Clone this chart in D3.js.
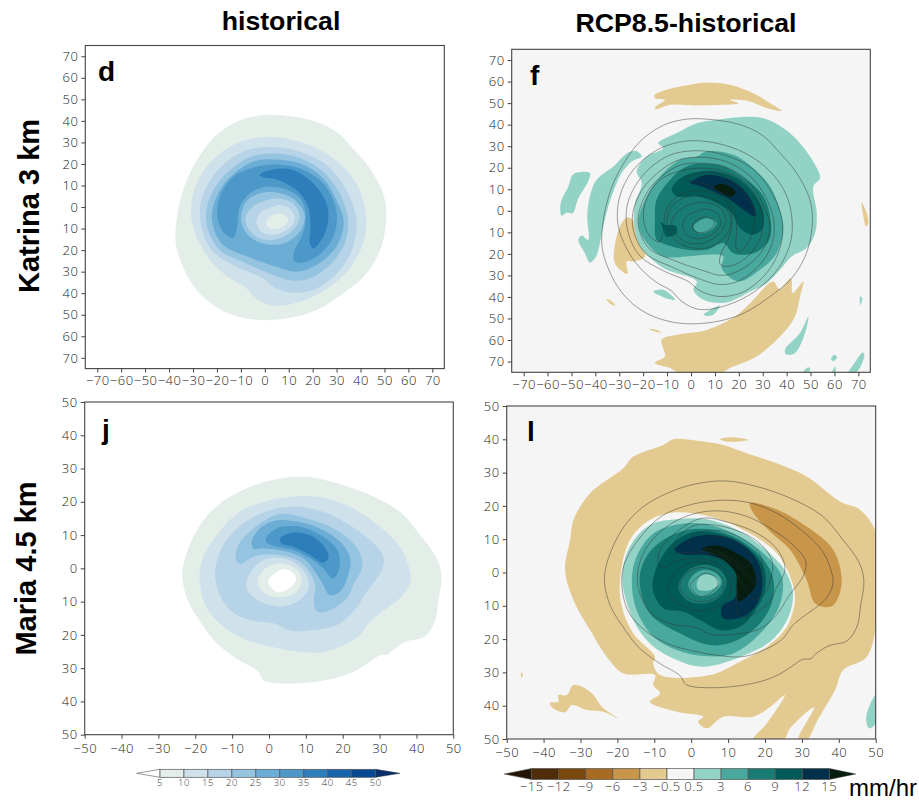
<!DOCTYPE html>
<html><head><meta charset="utf-8">
<script src="https://cdn.jsdelivr.net/npm/d3@7"></script>
<style>
html,body{margin:0;padding:0;background:#fff;overflow:hidden}
svg{display:block}
.tk text{font-family:"Open Sans","Liberation Sans",sans-serif;font-weight:300;fill:#222;letter-spacing:.5px}
</style></head><body><svg id="c" width="919" height="801"></svg>
<script>
// ---------- colour levels ----------
const blueLevels = [5,10,15,20,25,30,35,40,45,50];
const blueColors = ["#e3eee8","#cfe1ea","#b6d3e8","#95c4e1","#6cadd6","#4b98c9","#2e7ebc","#1764ab","#084a91"];
const blueEnds = ["#ffffff","#08306b"];
const diffLevels = ["−15","−12","−9","−6","−3","−0.5","0.5","3","6","9","12","15"];
const diffColors = ["#4f2d09","#7a470f","#a86b23","#c8964a","#e3ca90","#f5f5f5","#93d3c6","#4aa99e","#187c74","#005a57","#00304a"];
const diffEnds = ["#241403","#061d10"];
const ticks75 = [-70,-60,-50,-40,-30,-20,-10,0,10,20,30,40,50,60,70];
const ticks50 = [-50,-40,-30,-20,-10,0,10,20,30,40,50];

// ---------- panel d: Katrina historical (km, km) ----------
const d05 = [[4.9,42.7],[20.2,40.1],[29.9,35],[36.9,27.2],[43.9,18],[49.4,6.3],[50.8,-3.7],[48.7,-18.4],[42.5,-30.8],[32.7,-40.1],[21.6,-47.8],[11.8,-51.2],[0.7,-52.5],[-7.7,-51.7],[-16.7,-48.6],[-24.4,-43.2],[-30.6,-35.4],[-34.8,-26.2],[-37.2,-16.9],[-36.9,-6],[-34.1,7.9],[-29.9,18.7],[-21.6,31.9],[-11.8,39.6],[-3.5,42.3]];
const d10 = [[3.5,32.5],[14.6,30.3],[24.4,25.7],[32.7,18.7],[39,9.4],[42,-1.4],[41.8,-13.8],[36.9,-26.2],[27.2,-37],[14.6,-44],[3.5,-45.8],[-3.5,-42.4],[-8.4,-37],[-14.6,-33.1],[-21.6,-26.2],[-27.2,-16.9],[-30.6,-6],[-29.9,6.3],[-24.4,18.7],[-14.6,28],[-4.9,31.9]];
const d15 = [[3.5,27.9],[14.6,25.7],[25.8,19.5],[34.1,7.9],[38.3,-6],[36.9,-18.4],[31.3,-29.3],[21.6,-37.8],[11.8,-39.8],[3.5,-37],[-0.7,-33.1],[-11.8,-27.7],[-21.6,-20.7],[-26.5,-9.1],[-26.5,3.3],[-20.2,16.4],[-9.1,25.7]];
const d20 = [[3.5,24.9],[14.6,22.9],[24.4,16.4],[31.3,6.3],[34.8,-6],[33.4,-16.9],[27.2,-26.9],[18.8,-33.1],[11.8,-34.2],[3.5,-31.6],[-7.7,-26.2],[-18.8,-20],[-23.7,-10.7],[-24.4,-1.4],[-20.2,10.2],[-11.8,19.5],[-4.9,23.7]];
const d25 = [[3.5,22.1],[14.6,20.3],[24.4,13.3],[29.9,3.3],[33,-6.8],[29.9,-18.4],[21.6,-26.9],[13.2,-30],[4.9,-27.7],[-7.7,-22.8],[-17.4,-17.6],[-21.6,-9.1],[-21.9,-1.4],[-17.4,10.2],[-9.1,18.7],[-3.5,21.5]];
const d30 = [[-13.2,-14.4],[-17.4,-11.5],[-19.8,-4.5],[-18.8,4.8],[-13.2,14.1],[-4.9,18.4],[4.9,19.8],[14.6,18],[23.7,11.8],[28.6,3.3],[30.2,-6],[27.9,-15.3],[21.6,-23.1],[14.6,-25.9],[12.1,-24.6],[12.5,-20],[15.3,-13.8],[17.1,-6],[15.3,3.3],[9.1,8.2],[0.7,9.4],[-6.3,6.3],[-10.4,0.2],[-11.8,-10.7]];
const d35 = [[-2.1,14.9],[3.5,17.5],[11.8,17.2],[20.2,11],[25.8,1.7],[26.5,-6],[24.4,-13.8],[20.2,-19.2],[18.8,-16.9],[19.1,-9.1],[18.1,0.2],[13.2,7.9],[4.9,12.8],[-0.7,13.8]];
const dEye20 = [[4.9,6.8],[11.8,4],[16.7,-3.7],[14.6,-11.5],[7.7,-16.9],[-0.7,-16.9],[-7,-13],[-10,-6],[-7.7,2.5],[-2.1,6.3]];
const dEye15 = [[5.6,4],[11.8,1.7],[14.6,-4.5],[11.8,-10.7],[4.9,-15],[-2.1,-14.6],[-7,-9.9],[-8,-4.5],[-4.2,0.9],[0.7,3.2]];
const dEye10 = [[6.3,0.9],[11.1,-1.4],[12.5,-6],[9.1,-10.7],[3.5,-13],[-1.4,-11.5],[-3.5,-6.8],[-1.4,-2.2],[2.8,-0.2]];
const dEye05 = [[6.3,-2.9],[9.8,-5.3],[8.4,-8.4],[3.5,-10.2],[0.7,-8.4],[1.4,-5.3]];

// ---------- panel j: Maria historical ----------
const j05 = [[9.3,27.5],[17.5,25.9],[26.5,22.5],[35.5,17],[41,10],[45.5,3],[46.8,-2.5],[45.9,-10],[45,-16],[42.3,-20.5],[37.3,-22],[33.7,-24.5],[32.4,-25.9],[30.1,-26.1],[27.4,-28.1],[22.9,-31.1],[17.5,-33.1],[6.6,-34.6],[-1.5,-33.6],[-2.9,-31.1],[-8.8,-27.1],[-14.2,-22.5],[-18.7,-16],[-21.9,-10],[-23.5,-3],[-22.8,3],[-18.7,13],[-13.3,19.5],[-6.1,24],[1.2,26.6]];
const j10 = [[8.4,21.7],[15.6,21],[22.9,18],[30.1,12.5],[35.5,6.5],[37.8,1],[38.4,-3.5],[36.4,-8],[30.1,-13.5],[27.4,-16],[24.7,-20],[19.3,-23.5],[13.8,-25.3],[6.6,-24.8],[0.3,-23.5],[-6.1,-21.5],[-12.4,-17.5],[-16.9,-12],[-18.7,-5],[-18.3,2],[-14.2,10],[-7.9,17],[0.3,20.5]];
const j15 = [[7.5,18.5],[14.7,17],[21.1,13.5],[27.4,8.5],[31,3.5],[30.6,-0.5],[26.5,-7],[22.9,-13],[18.4,-17],[12,-18.5],[5.7,-18.7],[1.2,-16.5],[-5.2,-15.5],[-10.6,-12.5],[-13.7,-7],[-14.6,-1],[-12.4,7],[-7,13.5],[0.3,17.5]];
const j20 = [[3,16.3],[10.2,15],[17.5,12],[23.3,7],[25.4,1],[22.9,-5],[21.1,-9],[15.6,-13],[12.9,-12.8],[12.2,-10],[12.5,-5],[10.2,0],[6.6,3],[1.2,4.2],[-4.2,3.5],[-7.9,1.3],[-9,3],[-8.3,7],[-4.2,12]];
const j25 = [[1.2,14.2],[6.6,14.2],[13.8,12],[19.3,8],[22,3],[21.5,-2],[19.3,-7],[16.4,-8],[14.7,-5],[12.5,-1],[9.3,3],[3.9,5.3],[-2.4,6],[-4.2,5.8],[-4.7,8],[-2.9,11.5]];
const j30 = [[2.1,12],[8.4,12.5],[14.7,9.5],[18.8,5],[18.8,-1],[17.3,-3],[14.7,0],[11.1,3],[6.6,5.5],[1.2,6.8],[-0.8,8],[-0.6,9.5]];
const j35 = [[3,9],[6.6,10.7],[12,9.5],[15.6,5.5],[16.1,3],[14.7,1.7],[11.1,4],[6.6,6.5],[3.4,7.5]];
const jEye10 = [[2.1,3.2],[6.6,2],[10.2,-2],[10.7,-6],[8.4,-9.5],[3,-11.5],[-2.4,-10],[-5.6,-7],[-6.2,-4.5],[-4.2,0],[-1.5,2.5]];
const jEye05 = [[3.4,1.5],[7.1,0],[8.9,-3.5],[7.5,-7],[3,-8.7],[-1.1,-7.5],[-3.1,-4],[-1.5,-0.5],[0.7,1]];
const jEye00 = [[3.9,-0.2],[6.6,-1.5],[7.3,-3.5],[5.7,-5.8],[2.5,-7.2],[0.1,-5],[-0.2,-3.5],[1.6,-1.5]];

// ---------- panel f: Katrina difference ----------
const fTanTop = [[-15.1,53.9],[-10.2,56.2],[-0.4,58.5],[6.6,59.6],[16.3,58.5],[26.1,54.6],[33.1,50],[37.9,46.4],[31.6,47.7],[24.7,50.8],[16.3,51.5],[19.8,50],[13.5,49.2],[2.4,48.9],[-8.8,49.2],[-14.4,47.2],[-15.1,48],[-10.9,51.5],[-15.1,52.3]];
const fTanBottom = [[18.4,-49.1],[24.7,-42.9],[34.4,-32.8],[37,-36.4],[41.8,-31.3],[42.5,-38.2],[47,-32.8],[45.6,-39.8],[43.5,-49.1],[38.6,-56.8],[27.5,-67.6],[16.3,-73],[12.1,-75.4],[-4.6,-75.4],[-8.8,-73],[-15.1,-70.7],[-10.9,-67.6],[-12.3,-59.9],[-6,-57.6],[6.6,-55.3]];
const fTanLeft = [[-26.9,-3.1],[-24.4,-4.2],[-22.7,-11.1],[-19.2,-21.2],[-24.1,-23.5],[-26.9,-23.5],[-26.6,-29.3],[-30.4,-26.6],[-32.2,-22.8],[-31.4,-13.5],[-29.7,-7.3]];
const fTanRight = [[71.4,4],[73.5,-1.1],[74.2,-5.7],[73.2,-7.3],[72.1,-2.6]];
const fTanSmallA = [[-35.3,-41],[-33.1,-42.1],[-31.7,-44],[-33.8,-43.2]];
const fTanSmallB = [[-17.4,-55],[-14.4,-55.3],[-12.3,-56.5],[-15.1,-56]];
const fT1Main = [[30.3,43],[38.6,38.4],[45.6,31.4],[51.9,21.4],[54,15.2],[51.2,11.3],[52.6,-1.1],[51.9,-10.4],[48.4,-17.3],[42.1,-21.2],[37.2,-27.4],[31.7,-33.6],[24.7,-37.5],[14.9,-42.6],[5.2,-41.3],[1,-36.7],[2.4,-32.8],[-10.2,-27.4],[-14.4,-24.3],[-21.3,-16.6],[-23.8,-5.7],[-23.4,3.6],[-20.6,12.8],[-22.7,18.3],[-18.5,25.2],[-11.6,29.1],[-13.7,31.4],[-6,36.1],[2.4,40.7],[10.7,42.3],[20.5,43.5]];
const fT1Arm = [[-26.2,27.1],[-22.7,27.6],[-20.6,25.2],[-24.8,22.9],[-29,17.5],[-32.2,9.8],[-34.6,2],[-36.7,-7.3],[-38.1,-15],[-39.7,-21.2],[-42.3,-24],[-44.4,-19.7],[-47.1,-13.5],[-45.7,-11.5],[-43,-13.5],[-43.4,-2.6],[-42.3,6.7],[-39.5,14.4],[-32.5,20.6]];
const fT1Left = [[-49.2,17],[-42.3,17.5],[-43,13.6],[-47.1,5.9],[-49.5,-1.1],[-52,-0.8],[-54.1,-2.3],[-54.5,3.6],[-51.3,11.3]];
const fT1SmallA = [[-15.8,-37.5],[-11.6,-36.7],[-6.7,-41.3],[-11.6,-40.1]];
const fT1SmallB = [[5.2,-48.3],[12.1,-44],[9.3,-48.3],[6.6,-48.8]];
const fT1SmallC = [[49.1,-49.1],[47.7,-56.8],[43.5,-66.1],[39.7,-66.6],[39.3,-64.6],[45.6,-56.8]];
const fT1SmallD = [[70.7,-39.8],[71.7,-40.6],[70.7,-44],[70.7,-43]];
const fT1SmallE = [[60.3,-66.9],[61,-68.4],[59.3,-69.9],[58.6,-68.4]];
const fT1SmallF = [[71.8,-65.8],[72.5,-66.9],[69.3,-74.9],[65.8,-75.4],[67.9,-71.5]];
const fT1SmallG = [[48.4,-73],[49.8,-73],[49.1,-75.4],[47,-75.4]];
const fT1SmallH = [[60.3,-72.3],[60.3,-75.4],[58.9,-75.4]];
const fT3 = [[6.6,27.6],[17.7,26],[26.1,19.8],[33.1,11.3],[37.2,0.5],[38.6,-8.8],[35.8,-19.7],[28.9,-27.4],[19.8,-32.8],[12.8,-26.6],[13.5,-21.2],[6.6,-20.4],[-1.8,-21.2],[-11.6,-21.2],[-18.5,-15],[-22,-5.7],[-18.5,6.7],[-11.6,17.5],[-4.6,23.7],[2.4,25.2]];
const fT6 = [[2.4,21.8],[13.5,20.6],[23.3,14.4],[30.3,6.7],[33.3,-4.2],[32.8,-13.5],[26.1,-19.7],[17.7,-19.7],[13.5,-15],[6.6,-18.1],[-1.8,-18.1],[-10.2,-15.8],[-14.4,-13.5],[-15.1,-4.2],[-14.4,5.1],[-8.8,14.4],[-3.2,19.8]];
const fT9 = [[-1.8,16.7],[7.9,18.6],[17.7,15.9],[26.1,8.2],[30.3,-1.1],[29.6,-8.8],[25.4,-11.1],[20.5,-8],[17,-1.1],[10.7,3.6],[2.4,6.7],[-6,6.7],[-8.1,9.8],[-6,13.6]];
const fT9Small = [[-12.7,-5],[-10.9,-6.5],[-6.3,-7],[-6,-10.4],[-10.2,-11.9],[-11.6,-8.8]];
const fT12 = [[-0.4,12.8],[6.6,16.7],[16.3,14.4],[23.3,8.2],[26.8,0.5],[26.8,-2.6],[21.9,0.5],[16.3,5.1],[9.3,9],[2.4,12]];
const fT15 = [[9.3,10.8],[12.1,12.4],[16.3,11.3],[18.7,8.5],[17,6.7],[12.8,8.2]];
const fEye = [[1,-7.3],[6.6,-3.4],[10.7,-5.7],[8.6,-8.8],[3.8,-10.4]];

// ---------- panel l: Maria difference ----------
const lTan = [[-4.8,40],[1.5,39.6],[8.7,38.3],[15,35.8],[23.2,32.8],[31.3,28.8],[40.3,21.3],[45.8,18.8],[50.3,11.3],[50.3,-13.3],[47.6,-25.3],[41.2,-29.3],[39,-35.3],[34.5,-43.8],[31.3,-50.3],[29,-50.3],[33.3,-40.5],[26.8,-46.8],[25,-50.3],[16.8,-50.3],[20.5,-45.3],[25.4,-36.8],[20.9,-40.8],[16.8,-43.3],[8.7,-43.3],[4.2,-46.8],[1.9,-44.8],[3.3,-43.3],[-3.9,-41.8],[-11.2,-38.8],[-8.4,-36.3],[-10.3,-33.8],[-9.8,-30.8],[-18.4,-30.3],[-22.9,-25.3],[-27.4,-17.3],[-31.9,-8.3],[-34.2,0.8],[-32.8,9.8],[-31.9,15.8],[-27.4,23.8],[-18.4,31.3],[-15.7,34.8],[-7.5,38.3]];
const lRing = [[-19.3,-2.3],[-16.6,9.8],[-11.2,15.8],[-4.8,18],[5.1,16.8],[15,12.3],[23.2,5.8],[27.2,-2.3],[28.1,-8.3],[25.9,-16.3],[20.5,-22.3],[12.3,-27.3],[5.1,-30.8],[-8.4,-30.8],[-10.3,-27.3],[-9.8,-25.3],[-15.7,-18.3],[-18.8,-10.3]];
const lT1 = [[-18.7,-1.8],[-16.6,7.8],[-11.2,14.3],[-3.9,16],[5.1,15.8],[14.1,11.8],[22.2,4.8],[25.9,-0.3],[27.6,-6.3],[26.4,-13.3],[21.9,-20.3],[15.6,-24.3],[3.3,-28.3],[-3.9,-26.3],[-11.2,-21.3],[-15.7,-14.3]];
const lT3 = [[-16.1,-2.3],[-14.8,4.8],[-10.2,11.8],[-3,14.6],[5.1,14.3],[13.2,10.8],[20.5,4.8],[24.6,-1.3],[24.1,-9.3],[19.6,-17.3],[11.4,-24.3],[3.3,-25.1],[-3.9,-23.3],[-10.2,-19.3],[-14.8,-11.3]];
const lT6 = [[-14,-2.3],[-12.1,4.8],[-7.5,9.8],[-1.2,12.8],[6,12.8],[13.2,9.8],[19.6,3.8],[22.3,-2.3],[21.8,-9.3],[17.8,-16.3],[11.4,-20.8],[5.1,-21.8],[-3.9,-17.8],[-11.2,-12.3]];
const lT9 = [[-10.5,-3.3],[-8.4,3.8],[-3.9,9.8],[1.5,12.3],[8.7,11.3],[15,7.8],[19.6,1.8],[20,-5.3],[16.8,-12.3],[13.2,-16.3],[7.8,-17.3],[3.3,-14.8],[-2.1,-11.8],[-7.5,-10.8],[-9.8,-7.3]];
const lT12 = [[-4.4,6.8],[-1.2,9.8],[4.2,11.3],[11.4,9.8],[16.8,5.3],[19.1,-0.3],[18.7,-7.3],[15,-12.8],[8.7,-13.8],[8.3,-10.3],[12,-7.3],[12,0.8],[8.7,3.8],[3.3,5.3],[-2.1,5.3]];
const lT15 = [[3,7.3],[6.9,8.1],[12.3,5.8],[16.4,2.3],[17.3,-4.3],[12.8,-8.6],[12.3,-5.3],[12.1,-0.3],[8.7,3.8],[4.2,6.3]];
const lEye6 = [[3.3,2.3],[7.8,0.8],[9.6,-2.8],[7.8,-7.3],[3.3,-9.3],[-1.2,-8.3],[-3.5,-4.3],[-1.2,0.3]];
const lEye3 = [[3.7,0.8],[6.9,-0.3],[8.3,-2.8],[6.5,-5.8],[2.8,-7.3],[0.1,-5.8],[-0.8,-3.3],[1,-0.3]];
const lEye1 = [[4.2,-0.5],[7.1,-1.8],[7.6,-3.3],[5.1,-5.3],[1.9,-5.1],[1.5,-3.3],[2.4,-1.3]];
const lTanDark = [[15.9,20.8],[22.3,19.3],[31.3,13.8],[38.5,6.8],[40.8,-2.3],[39.5,-8.3],[37.7,-10.3],[33.6,-9.3],[31.3,-2.3],[26.8,6.8],[21.4,12.3],[16.9,17.8]];
const lTanTop = [[7.8,40],[10.5,40.6],[15.5,39.8],[9.6,39.3]];
const lTanLeft = [[-38.3,-39.1],[-36,-38.8],[-36,-36.8],[-33.7,-36.8],[-31.9,-33.8],[-27.4,-35.8],[-23.8,-40.8],[-19.9,-43.8],[-23.8,-41.8],[-28.3,-41.3],[-32.3,-39.8],[-34.2,-42],[-37.4,-40.8]];
const lTanTiny = [[-46,-30],[-45.6,-30.8],[-46,-31.5],[-46.2,-30.8]];
const lT1Corner = [[50.3,-36.3],[50.3,-44.8],[48.2,-46.8],[47.4,-43.8],[48.4,-39.8]];

const B = blueColors, D = diffColors;
const TAN=D[4], TANDK=D[3], BG=D[5], T1=D[6], T3=D[7], T6=D[8], T9=D[9], T12=D[10], T15=diffEnds[1];

const panels = [
 {id:"d",box:[85.3,444.3,45.5,368.6],lim:75,ticks:ticks75,bg:"#fff",letter:[98,81],pad:3,
  fills:[[d05,B[0]],[d10,B[1]],[d15,B[2]],[d20,B[3]],[d25,B[4]],[d30,B[5]],[d35,B[6]],[dEye20,B[3]],[dEye15,B[2]],[dEye10,B[1]],[dEye05,B[0]]],lines:[]},
 {id:"f",box:[511.7,870.3,49.3,372.3],lim:75,ticks:ticks75,bg:BG,letter:[530,85],pad:3,
  fills:[[fTanTop,TAN],[fTanBottom,TAN],[fTanLeft,TAN],[fTanRight,TAN],[fTanSmallA,TAN],[fTanSmallB,TAN],
   [fT1Main,T1],[fT1Arm,T1],[fT1Left,T1],[fT1SmallA,T1],[fT1SmallB,T1],[fT1SmallC,T1],[fT1SmallD,T1],[fT1SmallE,T1],[fT1SmallF,T1],[fT1SmallG,T1],[fT1SmallH,T1],
   [fT3,T3],[fT6,T6],[fT9,T9],[fT9Small,T9],[fT12,T12],[fT15,T15],[fEye,T3]],
  lines:[d05,d10,d15,d20,d25,d30,d35,dEye20,dEye15,dEye10,dEye05]},
 {id:"j",box:[84.7,453.3,402,734.7],lim:50,ticks:ticks50,bg:"#fff",letter:[102,439],pad:5,
  fills:[[j05,B[0]],[j10,B[1]],[j15,B[2]],[j20,B[3]],[j25,B[4]],[j30,B[5]],[j35,B[6]],[jEye10,B[1]],[jEye05,B[0]],[jEye00,"#ffffff"]],lines:[]},
 {id:"l",box:[506.7,875.7,406,739],lim:50,ticks:ticks50,bg:BG,letter:[527,441],pad:5,
  fills:[[lTan,TAN],[lTanTop,TAN],[lTanLeft,TAN],[lTanTiny,TAN],[lRing,BG],[lTanDark,TANDK],[lT1Corner,T1],
   [lT1,T1],[lT3,T3],[lT6,T6],[lT9,T9],[lT12,T12],[lT15,T15],[lEye6,T6],[lEye3,T3],[lEye1,T1]],
  lines:[j05,j10,j15,j20,j25,j30,j35,jEye10,jEye05,jEye00]}
];

const svg = d3.select("#c");
const SANS = '"Liberation Sans",Arial,sans-serif';

panels.forEach(p=>{
  const [x0,x1,y0,y1]=p.box;
  const x=d3.scaleLinear().domain([-p.lim,p.lim]).range([x0,x1]);
  const y=d3.scaleLinear().domain([-p.lim,p.lim]).range([y1,y0]);
  const g=svg.append("g");
  const clip="clip-"+p.id;
  g.append("clipPath").attr("id",clip).append("rect").attr("x",x0).attr("y",y0).attr("width",x1-x0).attr("height",y1-y0);
  g.append("rect").attr("x",x0).attr("y",y0).attr("width",x1-x0).attr("height",y1-y0).attr("fill",p.bg);
  const path=d3.line().x(d=>x(d[0])).y(d=>y(d[1])).curve(d3.curveCatmullRomClosed.alpha(0.5));
  const body=g.append("g").attr("clip-path",`url(#${clip})`);
  body.selectAll("path.f").data(p.fills).join("path").attr("class","f")
    .attr("d",d=>path(d[0])).attr("fill",d=>d[1]);
  body.selectAll("path.l").data(p.lines).join("path").attr("class","l")
    .attr("d",d=>path(d)).attr("fill","none").attr("stroke","#333").attr("stroke-width",.55).attr("stroke-opacity",.85);
  g.append("rect").attr("x",x0).attr("y",y0).attr("width",x1-x0).attr("height",y1-y0)
    .attr("fill","none").attr("stroke","#444").attr("stroke-width",1.1);
  const fmtX=v=>v<0?"−"+(-v):""+v;
  const fmtY=v=>""+Math.abs(v);
  const ax=g.append("g").attr("class","tk").attr("transform",`translate(0,${y1})`)
    .call(d3.axisBottom(x).tickValues(p.ticks).tickFormat(fmtX).tickSize(4).tickPadding(p.pad));
  const ay=g.append("g").attr("class","tk").attr("transform",`translate(${x0},0)`)
    .call(d3.axisLeft(y).tickValues(p.ticks).tickFormat(fmtY).tickSize(4).tickPadding(3));
  [ax,ay].forEach(a=>{a.select(".domain").remove();a.selectAll("line").attr("stroke","#444");a.selectAll("text").attr("font-size",13);});
  g.append("text").attr("x",p.letter[0]).attr("y",p.letter[1]).text(p.id)
    .attr("font-family",SANS).attr("font-weight",700).attr("font-size",28).attr("fill","#000");
});

// titles
const titles=[["historical",281,30],["RCP8.5-historical",686,32]];
svg.selectAll("text.title").data(titles).join("text").attr("class","title")
 .attr("x",d=>d[1]).attr("y",d=>d[2]).text(d=>d[0]).attr("text-anchor","middle")
 .attr("font-family",SANS).attr("font-weight",700).attr("font-size",26.7).attr("fill","#000");
const rows=[["Katrina 3 km",39,206],["Maria 4.5 km",36,568.5]];
svg.selectAll("text.row").data(rows).join("text").attr("class","row")
 .attr("transform",d=>`translate(${d[1]},${d[2]}) rotate(-90)`).text(d=>d[0]).attr("text-anchor","middle")
 .attr("font-family",SANS).attr("font-weight",700).attr("font-size",29).attr("fill","#000");

// colour bars
function colorbar(labels,colors,ends,r,yTop,h,tipL,tipR,fs,ly){
  const x=d3.scalePoint().domain(labels.map((d,i)=>i)).range(r);
  const g=svg.append("g");
  g.append("path").attr("d",`M${tipL},${yTop+h/2}L${r[0]},${yTop}V${yTop+h}Z`).attr("fill",ends[0]).attr("stroke","#555").attr("stroke-width",.6);
  g.append("path").attr("d",`M${tipR},${yTop+h/2}L${r[1]},${yTop}V${yTop+h}Z`).attr("fill",ends[1]).attr("stroke","#222").attr("stroke-width",.4);
  g.selectAll("rect").data(colors).join("rect")
   .attr("x",(d,i)=>x(i)).attr("y",yTop).attr("width",(d,i)=>x(i+1)-x(i)).attr("height",h)
   .attr("fill",d=>d).attr("stroke","#555").attr("stroke-width",.7);
  g.selectAll("text").data(labels).join("text")
   .attr("x",(d,i)=>x(i)).attr("y",ly).text(d=>d).attr("text-anchor","middle")
   .attr("font-family",'"Open Sans","Liberation Sans",sans-serif').attr("font-weight",300).attr("font-size",fs).attr("fill","#333").attr("letter-spacing",.6);
}
colorbar(blueLevels,blueColors,blueEnds,[160,375.7],769.3,8,136.7,400,9.5,786);
colorbar(diffLevels,diffColors,diffEnds,[531.7,829.3],768.5,11,504.3,855.7,13,791);
svg.append("text").attr("x",849).attr("y",796).text("mm/hr").attr("font-family",SANS).attr("font-size",24).attr("fill","#000");
</script></body></html>
